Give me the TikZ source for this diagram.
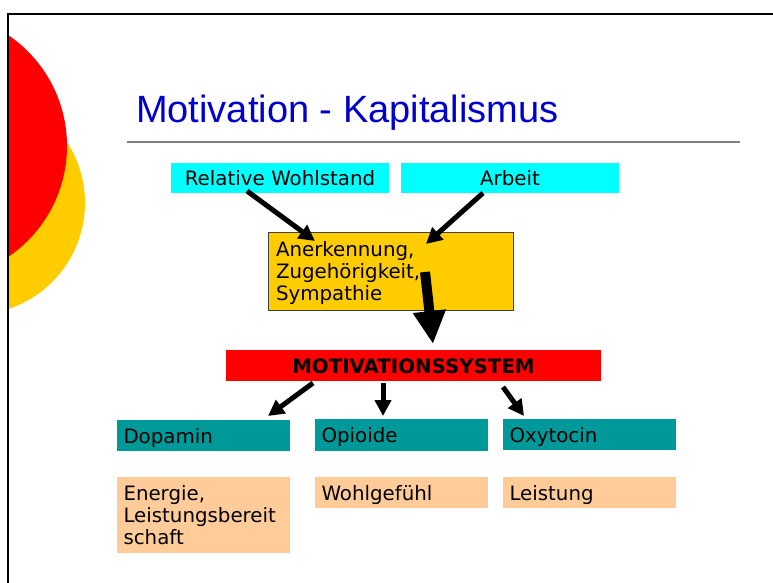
\documentclass[tikz,border=0pt]{standalone}
\usepackage{fontspec}
\setmainfont{DejaVu Sans}
\newfontfamily\titlefont{Liberation Sans}
\usetikzlibrary{arrows.meta}
\definecolor{tred}{HTML}{FF0000}
\definecolor{tyellow}{HTML}{FFCC00}
\definecolor{tcyan}{HTML}{00FFFF}
\definecolor{tteal}{HTML}{009999}
\definecolor{tpeach}{HTML}{FFCC99}
\definecolor{tblue}{HTML}{0000CC}
\definecolor{tgray}{HTML}{7F7F7F}
\tikzset{
  box/.style={anchor=north west, inner xsep=6.5pt, inner ysep=0pt, outer sep=0pt,
    font=\fontsize{19.8}{22}\selectfont, text=black},
  onebox/.style={box, text height=15pt, text depth=0pt},
  lbox/.style={align=left, text width=#1},
  cbox/.style={align=center, text width=#1},
  sarrow/.style={line width=5pt, -{Triangle[length=16pt,width=16pt]}},
  barrow/.style={line width=10pt, -{Triangle[length=33pt,width=31pt]}},
}
\begin{document}
\begin{tikzpicture}[x=1pt,y=-1pt]
\useasboundingbox (0,0) rectangle (773,583);
% decorative circles
\begin{scope}
\clip (9,0) rectangle (773,583);
\fill[tyellow] (-26.5,203) circle (111.5);
\fill[tred] (-67,146) circle (134);
\end{scope}
% frame
\draw[line width=2pt] (8,583) -- (8,14.3) -- (773,14.3);
% title
\node[anchor=base west, inner sep=0pt, text=tblue, font=\titlefont\fontsize{38}{40}\selectfont] (title) at (136,122) {Motivation - Kapitalismus};
\draw[tgray, line width=2pt] (127,142) -- (740,142);
% top boxes
\node[onebox, cbox=205pt, fill=tcyan, minimum width=218pt, minimum height=30pt] (rw) at (171,163) {Relative Wohlstand};
\node[onebox, cbox=205pt, fill=tcyan, minimum width=218pt, minimum height=30pt] (ar) at (401,163) {Arbeit};
\node[box, lbox=229pt, fill=tyellow, draw=black!75, line width=0.8pt, minimum width=245pt, minimum height=78pt, inner xsep=8pt, text height=20pt, text depth=48.5pt] (yb) at (268,232) {Anerkennung,\\Zugehörigkeit,\\Sympathie};
% motivationssystem
\node[onebox, cbox=362pt, fill=tred, minimum width=375pt, minimum height=31pt, font=\fontsize{19.8}{22}\selectfont\bfseries] (ms) at (226,350) {MOTIVATIONSSYSTEM};
% second row
\node[onebox, lbox=160pt, fill=tteal, minimum width=173pt, minimum height=31pt] (dp) at (117,420) {Dopamin};
\node[onebox, lbox=160pt, fill=tteal, minimum width=173pt, minimum height=32pt] (op) at (315,419) {Opioide};
\node[onebox, lbox=160pt, fill=tteal, minimum width=173pt, minimum height=31pt] (ox) at (503,419) {Oxytocin};
% third row
\node[box, lbox=160pt, fill=tpeach, minimum width=173pt, minimum height=76pt, text height=14pt, text depth=44pt] (en) at (117,477) {Energie,\\Leistungsbereit\\schaft};
\node[onebox, lbox=160pt, fill=tpeach, minimum width=173pt, minimum height=31pt] (wg) at (315,477) {Wohlgefühl};
\node[onebox, lbox=160pt, fill=tpeach, minimum width=173pt, minimum height=31pt] (le) at (503,477) {Leistung};
% arrows
\draw[sarrow] ([xshift=-33pt,yshift=2pt]rw.south) -- ([xshift=47pt,yshift=-9pt]yb.north west);
\draw[sarrow] ([xshift=-27pt]ar.south) -- ([xshift=158pt,yshift=-12pt]yb.north west);
\draw[barrow] ([xshift=157pt,yshift=-40pt]yb.north west) -- ([xshift=19.5pt,yshift=6pt]ms.north);
\draw[sarrow] ([xshift=-100.5pt,yshift=-2pt]ms.south) -- ([xshift=-22pt,yshift=4pt]dp.north east);
\draw[sarrow] ([xshift=-30.5pt,yshift=-2pt]ms.south) -- ([xshift=-18.5pt,yshift=3pt]op.north);
\draw[sarrow] ([xshift=89.5pt,yshift=-6pt]ms.south) -- ([xshift=21pt,yshift=3pt]ox.north west);
\end{tikzpicture}
\end{document}
